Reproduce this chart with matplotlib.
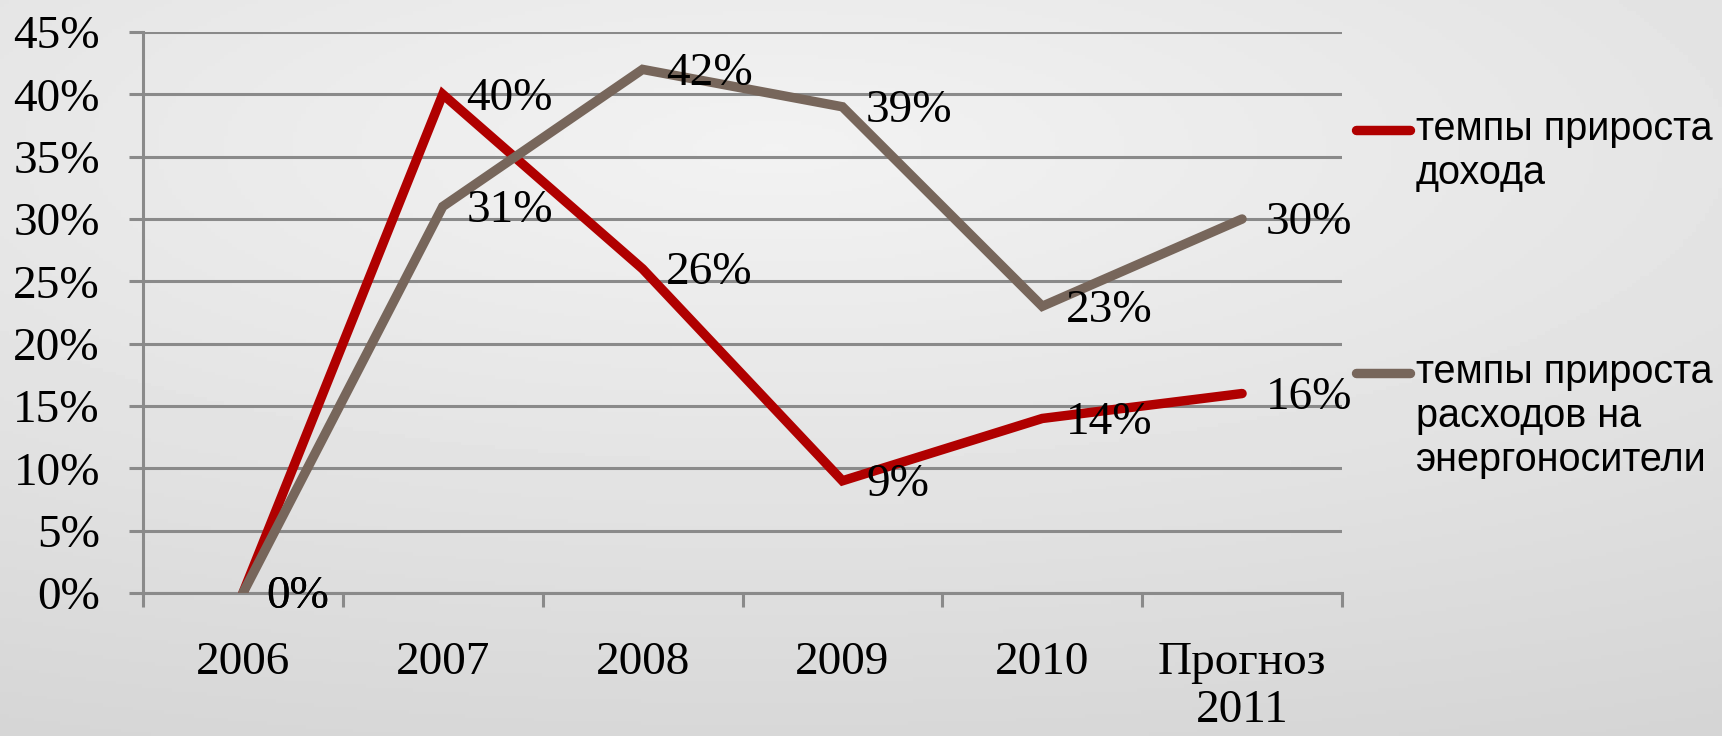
import numpy as np
import matplotlib as mpl
mpl.use('Agg')
import matplotlib.pyplot as plt
from matplotlib.lines import Line2D

# Data
categories = ['2006', '2007', '2008', '2009', '2010', 'Прогноз\n2011']
income = [0, 40, 26, 9, 14, 16]
energy = [0, 31, 42, 39, 23, 30]
series_names = ['темпы прироста\nдохода', 'темпы прироста\nрасходов на\nэнергоносители']
colors = ['#b00000', '#77665b']
yticks = [0, 5, 10, 15, 20, 25, 30, 35, 40, 45]

W, H = 1722, 736
fig = plt.figure(figsize=(W / 100, H / 100), dpi=100)

# background: light grey paper with a soft vignette
bg = fig.add_axes([0, 0, 1, 1], zorder=-10)
gx, gy = np.meshgrid(np.linspace(0, 1, 400), np.linspace(0, 1, 200))
d = np.sqrt(((gx - 0.45) * 1.0) ** 2 + ((gy - 0.2) * 1.3) ** 2)
shade = np.clip(0.95 - 0.1 * d, 0, 1)
bg.imshow(shade, cmap='gray', vmin=0, vmax=1, aspect='auto', extent=[0, 1, 1, 0])
bg.set_axis_off()

left, right, top, bottom = 143 / W, 1342 / W, 32 / H, 593 / H
ax = fig.add_axes([left, 1 - bottom, right - left, bottom - top])
ax.patch.set_alpha(0)

grid_c = '#8a8a8a'
serif = 'Liberation Serif'
x = np.arange(len(categories)) + 0.5

for vals, col in zip([income, energy], colors):
    ax.plot(x, vals, color=col, lw=6.8, solid_capstyle='round',
            solid_joinstyle='miter', zorder=3)
for vals in [income, energy]:
    for xi, v in zip(x, vals):
        ax.annotate(f'{v}%', (xi, v), xytext=(17, -3), textcoords='offset points',
                    ha='left', va='center', fontsize=34, family=serif, zorder=4)

ax.set_xlim(0, len(categories))
ax.set_ylim(0, 45)
ax.set_yticks(yticks)
ax.set_yticklabels([f'{t}%' for t in yticks])
ax.yaxis.grid(True, color=grid_c, lw=2.2)
ax.set_axisbelow(True)

ax.set_xticks(np.arange(len(categories) + 1))
ax.set_xticklabels([])
ax.set_xticks(x, minor=True)
ax.set_xticklabels(categories, minor=True)

ax.tick_params(axis='y', length=10, width=2.2, color=grid_c, pad=21,
               labelsize=34)
ax.tick_params(axis='x', which='major', length=10, width=2.2, color=grid_c)
ax.tick_params(axis='x', which='minor', length=0, pad=35, labelsize=34)
for lab in ax.get_yticklabels():
    lab.set_family(serif)
for lab in ax.get_xticklabels(minor=True):
    lab.set_family(serif)
    lab.set_linespacing(1.18)

for s in ['top', 'right']:
    ax.spines[s].set_visible(False)
for s in ['left', 'bottom']:
    ax.spines[s].set_color(grid_c)
    ax.spines[s].set_linewidth(2.2)

# legend on the right, handle aligned with first text line
leg_rows = [130, 373]
for name, col, yc in zip(series_names, colors, leg_rows):
    fig.add_artist(Line2D([1356 / W, 1410 / W], [1 - yc / H, 1 - yc / H],
                          color=col, lw=6.8, solid_capstyle='round'))
    for i, line in enumerate(name.split('\n')):
        base = yc + 10 + i * 44
        fig.text(1416 / W, 1 - base / H, line, fontsize=28.5,
                 family='Liberation Sans', ha='left', va='baseline')

fig.savefig('out.png', dpi=100)
